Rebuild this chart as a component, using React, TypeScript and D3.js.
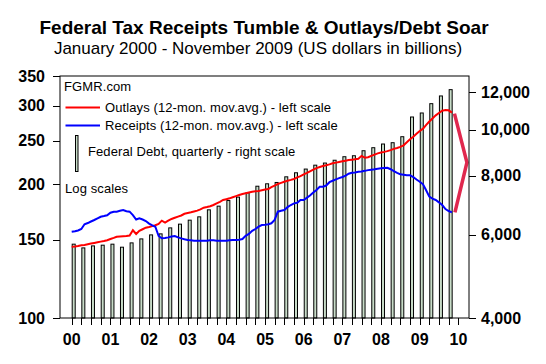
import React from "react";
import * as d3 from "d3";

// monthly 12-month moving averages, Jan 2000 .. Nov 2009 (billions)
const outlays = [
  144.6, 144.8, 145.2, 145.8, 146.0, 146.5, 147.0, 147.5, 148.0, 148.5, 149.0, 149.6,
  150.5, 151.4, 152.3, 152.5, 152.7, 152.9, 153.3, 157.5, 154.5, 157.0, 158.3, 159.6,
  160.2, 160.9, 161.6, 162.7, 165.5, 163.8, 165.5, 167.0, 168.0, 169.0, 170.0, 171.5,
  172.2, 172.8, 173.5, 174.3, 175.5, 177.0, 177.6, 178.3, 179.5, 181.0, 182.5, 184.2,
  185.0, 185.8, 186.8, 187.9, 189.0, 190.0, 190.7, 191.5, 192.3, 192.8, 193.1, 193.8,
  194.4, 195.0, 196.8, 198.5, 200.1, 201.3, 202.4, 203.5, 204.4, 205.4, 207.0, 208.5,
  210.4, 212.0, 213.7, 215.5, 217.2, 218.5, 219.6, 220.5, 221.5, 222.7, 223.5, 224.2,
  225.0, 225.8, 226.5, 227.0, 227.5, 228.1, 231.5, 229.3, 229.8, 231.5, 233.0, 234.5,
  235.5, 236.3, 237.2, 238.5, 240.0, 241.2, 242.5, 244.5, 248.5, 252.2, 255.5, 259.5,
  263.2, 266.5, 271.5, 276.5, 281.0, 285.5, 289.0, 292.5, 293.5, 293.0, 289.5,
];
const receipts = [
  156.3, 156.7, 157.3, 158.5, 162.5, 163.5, 164.8, 166.1, 167.5, 168.9, 169.5, 170.2,
  172.5, 173.4, 173.4, 174.2, 174.9, 173.8, 173.4, 170.4, 166.5, 167.5, 166.5, 165.2,
  163.0, 161.5, 160.4, 152.9, 151.1, 151.3, 151.8, 152.5, 152.9, 151.8, 151.0, 150.3,
  149.8, 149.5, 149.2, 149.2, 149.2, 149.2, 149.2, 149.5, 149.5, 149.2, 149.2, 149.2,
  149.2, 149.5, 149.7, 149.7, 150.0, 150.5, 153.0, 154.5, 157.0, 158.5, 160.5, 161.8,
  162.0, 162.5, 163.3, 166.1, 173.4, 174.2, 174.9, 177.5, 179.5, 181.0, 181.5, 184.2,
  184.2, 186.5, 188.5, 191.5, 194.0, 197.3, 197.3, 198.5, 202.0, 203.5, 205.0, 206.3,
  207.5, 209.0, 211.0, 212.0, 212.5, 213.2, 213.6, 214.2, 215.0, 215.5, 216.0, 216.6,
  217.0, 217.4, 217.7, 216.0, 214.0, 212.0, 210.4, 210.0, 209.5, 209.3, 207.5, 204.8,
  202.5, 199.8, 194.0, 187.4, 185.5, 184.2, 182.0, 179.5, 175.8, 174.0, 172.8,
];
// federal debt, quarterly, 2000 Q1 .. 2009 Q4 (billions)
const debt = [
  5731, 5628, 5683, 5703, 5731, 5647, 5767, 5880, 5996, 6026,
  6204, 6318, 6442, 6547, 6774, 6897, 7088, 7207, 7360, 7600,
  7690, 7740, 7956, 8114, 8262, 8420, 8508, 8625, 8774, 8816,
  9034, 9168, 9334, 9394, 9672, 10647, 10857, 11361, 11796, 12164,
];
const leftTicks = [100, 150, 200, 250, 300, 350];
const rightTicks = [4000, 6000, 8000, 10000, 12000];
const yearLabels = ["00", "01", "02", "03", "04", "05", "06", "07", "08", "09", "10"];

const W = 546, H = 364;
const L = 60, R = 469, T = 76, B = 318;
const FONT = "'Liberation Sans', Arial, sans-serif";

export default function App() {
  const x = d3.scaleTime()
    .domain([new Date(2000, 0, 1), new Date(2010, 0, 1)])
    .range([71.7, 458.4]);
  const yL = d3.scaleLog().domain([100, 350]).range([B, T]);
  const yR = d3.scaleLog().domain([4000, 13000]).range([B, T]);

  const month = (i) => new Date(2000, i, 1);
  const line = d3.line<number>()
    .x((d, i) => x(month(i)))
    .y((d) => yL(d));

  const quarters = d3.range(41).map((i) => new Date(2000, i * 3, 1));

  const n = outlays.length - 1;
  const lastX = x(month(n));
  const mid = Math.sqrt(outlays[n] * receipts[n]);
  const bracket = d3.line()([
    [lastX + 2.5, yL(outlays[n]) + 1],
    [lastX + 15, yL(mid)],
    [lastX + 3, yL(receipts[n])],
  ]);

  const boldTick = { fontFamily: FONT, fontWeight: "bold", fontSize: 16, fill: "#000" };
  const legendText = { fontFamily: FONT, fontSize: 13, fill: "#000", letterSpacing: 0.1 };

  return (
    <svg width={W} height={H} style={{ position: "absolute", left: 0, top: 0, background: "#fff" }}>
      <text x={264} y={34} textAnchor="middle" style={{ fontFamily: FONT, fontWeight: "bold", fontSize: 19 }}>
        Federal Tax Receipts Tumble &amp; Outlays/Debt Soar
      </text>
      <text x={258} y={54} textAnchor="middle" style={{ fontFamily: FONT, fontSize: 17 }}>
        January 2000 - November 2009 (US dollars in billions)
      </text>

      {/* debt bars */}
      {debt.map((v, i) => (
        <rect key={i} x={x(quarters[i]) + 0.5} y={yR(v)} width={3} height={B - yR(v)}
          fill="#c8dcc8" stroke="#000" strokeWidth={1} />
      ))}

      <path d={line(outlays)} fill="none" stroke="#ff0000" strokeWidth={2} />
      <path d={line(receipts)} fill="none" stroke="#0000ff" strokeWidth={2} />
      <path d={bracket} fill="none" stroke="#e0284e" strokeWidth={3.5} />

      {/* frame */}
      <rect x={L} y={T} width={R - L} height={B - T} fill="none" stroke="#000" strokeWidth={1} />

      {/* left axis */}
      {leftTicks.map((t) => (
        <g key={t}>
          <line x1={L - 7} x2={L} y1={Math.round(yL(t)) + 0.5} y2={Math.round(yL(t)) + 0.5} stroke="#000" />
          <text x={45} y={yL(t) + 5.5} textAnchor="end" style={boldTick}>{t}</text>
        </g>
      ))}

      {/* right axis */}
      {rightTicks.map((t) => (
        <g key={t}>
          <line x1={R} x2={R + 7} y1={Math.round(yR(t)) + 0.5} y2={Math.round(yR(t)) + 0.5} stroke="#000" />
          <text x={481} y={yR(t) + 5.5} style={boldTick}>{d3.format(",")(t)}</text>
        </g>
      ))}

      {/* bottom axis */}
      {quarters.map((q, i) => (
        <line key={i} x1={Math.round(x(q)) + 0.5} x2={Math.round(x(q)) + 0.5} y1={B} y2={B + 7} stroke="#000" />
      ))}
      {yearLabels.map((lab, i) => (
        <text key={lab} x={x(new Date(2000 + i, 0, 1))} y={345} textAnchor="middle" style={boldTick}>{lab}</text>
      ))}

      {/* legend */}
      <text x={64} y={90.5} style={legendText}>FGMR.com</text>
      <line x1={65.5} x2={100} y1={107.5} y2={107.5} stroke="#ff0000" strokeWidth={2} />
      <text x={105} y={111.5} style={legendText}>Outlays (12-mon. mov.avg.) - left scale</text>
      <line x1={65.5} x2={100} y1={125.5} y2={125.5} stroke="#0000ff" strokeWidth={2} />
      <text x={105} y={130} style={legendText}>Receipts (12-mon. mov.avg.) - left scale</text>
      <rect x={75.5} y={135.5} width={2.5} height={36} fill="#c8dcc8" stroke="#000" strokeWidth={1} />
      <text x={88} y={156} style={legendText}>Federal Debt, quarterly - right scale</text>
      <text x={65} y={193} style={legendText}>Log scales</text>
    </svg>
  );
}
